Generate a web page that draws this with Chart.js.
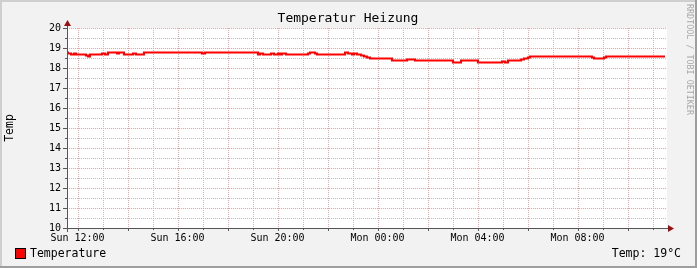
<!DOCTYPE html>
<html lang="de">
<head>
  <meta charset="UTF-8">
  <title>Temperatur Heizung</title>
  <script src="https://cdn.jsdelivr.net/npm/chart.js@4.4.2/dist/chart.umd.min.js"></script>
  <style>
    html, body { margin: 0; padding: 0; background: #f2f2f2; }
    canvas { display: block; }
  </style>
</head>
<body>
  <canvas id="tempChart" width="697" height="268"></canvas>

  <script>
    // hours relative to Sun 12:00, value holds until the next entry
    const hours = [-0.42, -0.38, -0.26, -0.14, -0.06, 0.34, 0.42, 0.50, 0.98, 1.10,
      1.22, 1.58, 1.66, 1.86, 2.22, 2.34, 2.66, 4.98, 5.10, 7.22,
      7.30, 7.42, 7.74, 7.86, 8.02, 8.10, 8.18, 8.34, 9.22, 9.30,
      9.50, 9.58, 10.70, 10.82, 10.98, 11.06, 11.18, 11.34, 11.46, 11.58,
      11.70, 12.58, 13.18, 13.50, 15.02, 15.34, 16.02, 16.98, 17.10, 17.22,
      17.74, 17.86, 18.02, 18.10, 20.58, 20.66, 21.06, 21.14, 23.50];
    const temps = [18.78, 18.73, 18.68, 18.73, 18.68, 18.63, 18.58, 18.68, 18.73, 18.68,
      18.78, 18.73, 18.78, 18.68, 18.73, 18.68, 18.78, 18.73, 18.78, 18.68,
      18.73, 18.68, 18.73, 18.68, 18.73, 18.68, 18.73, 18.68, 18.73, 18.78,
      18.73, 18.68, 18.78, 18.73, 18.68, 18.73, 18.68, 18.63, 18.58, 18.53,
      18.48, 18.38, 18.43, 18.38, 18.28, 18.38, 18.28, 18.33, 18.28, 18.38,
      18.43, 18.48, 18.53, 18.58, 18.53, 18.48, 18.53, 18.58, 18.58];
    const labelHours = [0, 4, 8, 12, 16, 20];
    const labelTexts = ['Sun 12:00', 'Sun 16:00', 'Sun 20:00', 'Mon 00:00', 'Mon 04:00', 'Mon 08:00'];
    const yMin = 10, yMax = 20;
    const xMin = -0.42, xMax = 23.58;

    const FONT = '"DejaVu Sans Mono", monospace';
    const MGRID = '#eea4a4';
    const GRID = '#bcbcbc';
    const AXIS = '#555';

    const gridHours = [];
    for (let h = Math.ceil(xMin); h <= Math.floor(xMax); h++) gridHours.push(h);
    const gridTemps = [];
    for (let v = yMin; v <= yMax; v += 0.5) gridTemps.push(v);

    const rrdFrame = {
      id: 'rrdFrame',
      beforeDraw(chart) {
        const { ctx, width, height, chartArea: a } = chart;
        ctx.save();
        ctx.fillStyle = '#f2f2f2';
        ctx.fillRect(0, 0, width, height);
        ctx.fillStyle = '#cfcfcf';
        ctx.fillRect(0, 0, width, 2);
        ctx.fillRect(0, 0, 2, height);
        ctx.fillStyle = '#9e9e9e';
        ctx.fillRect(0, height - 2, width, 2);
        ctx.fillRect(width - 2, 0, 2, height);
        ctx.fillStyle = '#fff';
        ctx.fillRect(a.left, a.top, a.right - a.left, a.bottom - a.top);
        ctx.restore();
      },
      beforeDatasetsDraw(chart) {
        // dotted rrd style grid, minor first then major
        const { ctx, chartArea: a, scales } = chart;
        ctx.save();
        ctx.lineWidth = 1;
        ctx.setLineDash([1, 1]);
        [false, true].forEach(major => {
          ctx.strokeStyle = major ? MGRID : GRID;
          ctx.beginPath();
          gridTemps.forEach(v => {
            if (Number.isInteger(v) !== major) return;
            const py = Math.round(scales.y.getPixelForValue(v)) + 0.5;
            ctx.moveTo(a.left, py); ctx.lineTo(a.right, py);
          });
          gridHours.forEach(h => {
            if ((h % 2 === 0) !== major) return;
            const px = Math.round(scales.x.getPixelForValue(h)) + 0.5;
            ctx.moveTo(px, a.top); ctx.lineTo(px, a.bottom);
          });
          ctx.stroke();
        });
        ctx.restore();
      },
      afterDraw(chart) {
        const { ctx, chartArea: a, scales } = chart;
        const ax = a.left + 0.5, ay = a.bottom + 0.5;
        ctx.save();

        // tick marks
        ctx.strokeStyle = AXIS;
        ctx.lineWidth = 1;
        ctx.beginPath();
        gridTemps.forEach(v => {
          const py = Math.round(scales.y.getPixelForValue(v)) + 0.5;
          const len = Number.isInteger(v) ? 4 : 2;
          ctx.moveTo(a.left - len, py); ctx.lineTo(a.left + 1, py);
        });
        gridHours.forEach(h => {
          const px = Math.round(scales.x.getPixelForValue(h)) + 0.5;
          const len = h % 2 === 0 ? 3 : 2;
          ctx.moveTo(px, a.bottom); ctx.lineTo(px, a.bottom + len);
        });
        ctx.stroke();

        // axes
        ctx.beginPath();
        ctx.moveTo(a.left - 4, ay); ctx.lineTo(a.right + 4, ay);
        ctx.moveTo(ax, a.bottom + 4); ctx.lineTo(ax, a.top - 4);
        ctx.stroke();

        // arrows
        ctx.fillStyle = '#9a1010';
        ctx.beginPath();
        ctx.moveTo(a.right + 1, ay - 3.5); ctx.lineTo(a.right + 7, ay); ctx.lineTo(a.right + 1, ay + 3.5);
        ctx.closePath(); ctx.fill();
        ctx.beginPath();
        ctx.moveTo(ax - 3.5, a.top - 2); ctx.lineTo(ax, a.top - 8); ctx.lineTo(ax + 3.5, a.top - 2);
        ctx.closePath(); ctx.fill();

        // texts
        ctx.fillStyle = '#000';
        ctx.textBaseline = 'middle';
        ctx.textAlign = 'center';
        ctx.font = '13px ' + FONT;
        ctx.fillText('Temperatur Heizung', 348, 19);

        ctx.save();
        ctx.translate(10, 128);
        ctx.rotate(-Math.PI / 2);
        ctx.font = '11.5px ' + FONT;
        ctx.fillText('Temp', 0, 0);
        ctx.restore();

        ctx.fillStyle = '#ff0000';
        ctx.fillRect(16, 249, 9, 9);
        ctx.strokeStyle = '#000';
        ctx.strokeRect(15.5, 248.5, 10, 10);

        ctx.fillStyle = '#000';
        ctx.font = '11.5px ' + FONT;
        ctx.textAlign = 'left';
        ctx.fillText('Temperature', 30, 254);
        ctx.textAlign = 'right';
        ctx.fillText('Temp: 19°C', 681, 254);

        ctx.save();
        ctx.translate(689, 4);
        ctx.rotate(Math.PI / 2);
        ctx.textAlign = 'left';
        ctx.fillStyle = '#a8a8a8';
        ctx.font = '8.4px ' + FONT;
        ctx.fillText('RRDTOOL / TOBI OETIKER', 0, 0);
        ctx.restore();

        ctx.restore();
      }
    };

    new Chart(document.getElementById('tempChart'), {
      type: 'line',
      data: {
        datasets: [{
          label: 'Temperature',
          data: hours.map((h, i) => ({ x: h, y: temps[i] })),
          borderColor: '#ff0000',
          borderWidth: 2,
          pointRadius: 0,
          stepped: true,
          fill: false
        }]
      },
      options: {
        responsive: false,
        animation: false,
        devicePixelRatio: 1,
        layout: { padding: { top: 28, right: 30, left: 0, bottom: 0 } },
        plugins: {
          legend: { display: false },
          title: { display: false },
          tooltip: { enabled: false }
        },
        scales: {
          x: {
            type: 'linear',
            min: xMin,
            max: xMax,
            afterFit(scale) { scale.height = 40; scale.paddingLeft = 0; scale.paddingRight = 0; },
            afterBuildTicks(scale) { scale.ticks = gridHours.map(v => ({ value: v })); },
            ticks: {
              autoSkip: false,
              maxRotation: 0,
              padding: 4,
              color: '#000',
              font: { family: FONT, size: 10 },
              callback: v => {
                const i = labelHours.indexOf(v);
                return i >= 0 ? labelTexts[i] : '';
              }
            },
            grid: { display: false, drawTicks: false },
            border: { display: false }
          },
          y: {
            min: yMin,
            max: yMax,
            afterFit(scale) { scale.width = 67; },
            ticks: {
              stepSize: 0.5,
              padding: 6,
              color: '#000',
              font: { family: FONT, size: 10 },
              callback: v => Number.isInteger(v) ? String(v) : ''
            },
            grid: { display: false, drawTicks: false },
            border: { display: false }
          }
        }
      },
      plugins: [rrdFrame]
    });
  </script>
</body>
</html>
